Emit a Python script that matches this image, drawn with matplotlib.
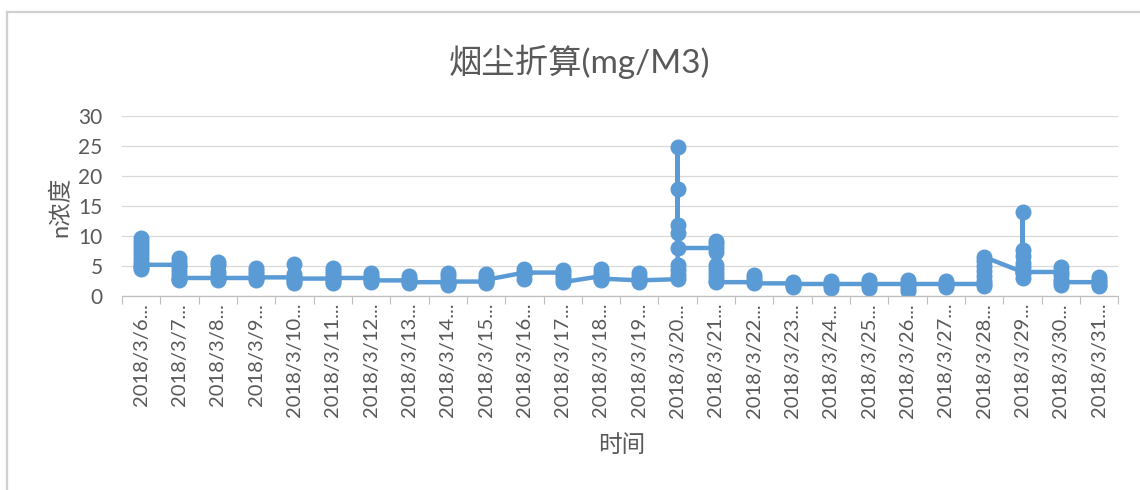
import matplotlib
matplotlib.use("Agg")
import matplotlib.pyplot as plt
from matplotlib.lines import Line2D

plt.rcParams['font.family'] = ['Lato', 'Noto Sans CJK SC', 'DejaVu Sans']

# dados (vários registros por dia)
dates = ["2018/3/%d..." % d for d in range(6, 32)]

values_per_day = [
    [9.7, 9.0, 8.3, 7.6, 7.0, 6.3, 5.6, 4.8, 4.5, 5.2],   # 3/6
    [5.2, 6.3, 5.7, 5.0, 4.3, 3.6, 2.9, 2.7, 3.0],        # 3/7
    [3.0, 5.7, 5.2, 4.0, 3.4, 2.7, 3.0],                  # 3/8
    [3.0, 4.7, 4.2, 3.6, 3.0, 2.7, 3.1],                  # 3/9
    [3.1, 5.3, 3.6, 3.0, 2.5, 2.2, 2.9],                  # 3/10
    [2.9, 4.7, 4.2, 3.6, 3.0, 2.4, 2.2, 3.0],             # 3/11
    [3.0, 3.8, 3.3, 2.8, 2.4, 2.6],                       # 3/12
    [2.6, 3.4, 2.8, 2.2, 2.3],                            # 3/13
    [2.3, 3.9, 3.3, 2.7, 2.1, 1.9, 2.4],                  # 3/14
    [2.4, 3.7, 3.1, 2.6, 2.2, 2.7],                       # 3/15
    [3.9, 4.5, 3.6, 2.9, 3.9],                            # 3/16
    [3.9, 4.3, 3.4, 2.8, 2.3],                            # 3/17
    [3.3, 4.5, 3.9, 3.2, 2.6, 2.9],                       # 3/18
    [2.6, 3.8, 3.2, 2.6, 2.4, 2.6],                       # 3/19
    [2.8, 3.5, 4.3, 5.2, 11.8, 10.5, 17.8, 24.8, 8.0],    # 3/20
    [8.0, 9.2, 8.6, 7.4, 5.2, 4.5, 3.8, 3.1, 2.5, 2.3],   # 3/21
    [2.3, 3.5, 3.0, 2.5, 2.1],                            # 3/22
    [2.1, 2.4, 1.8, 1.5, 2.0],                            # 3/23
    [2.0, 2.5, 1.8, 1.4, 2.0],                            # 3/24
    [2.0, 2.6, 1.9, 1.4, 2.0],                            # 3/25
    [2.0, 2.7, 2.0, 1.3, 0.8, 2.0],                       # 3/26
    [2.0, 2.5, 1.8, 1.5, 2.0],                            # 3/27
    [2.0, 1.6, 2.5, 3.3, 4.2, 5.0, 5.8, 6.5],             # 3/28
    [4.0, 3.0, 3.8, 4.8, 5.5, 6.6, 7.7, 14.0, 4.0],       # 3/29
    [4.0, 4.8, 3.5, 2.6, 1.8, 2.3],                       # 3/30
    [2.3, 3.2, 2.6, 1.9, 1.6],                            # 3/31
]

x = []
y = []
for i, vals in enumerate(values_per_day):
    x.extend([i] * len(vals))
    y.extend(vals)

cor = '#5B9BD5'
cinza_txt = '#595959'

fig = plt.figure(figsize=(11.4, 4.9), dpi=100)
ax = fig.add_axes([0.107, 0.396, 0.874, 0.367])

ax.plot(x, y, color=cor, linewidth=3.2, marker='o', markersize=10.5,
        markeredgecolor=cor, markerfacecolor=cor, solid_joinstyle='round')

ax.set_xlim(-0.5, len(dates) - 0.5)
ax.set_ylim(0, 30)
ax.set_yticks(range(0, 31, 5))
ax.set_xticks(range(len(dates)))
ax.set_xticklabels(dates, rotation=90, va='top', ha='center')
ax.set_xticks([i - 0.5 for i in range(len(dates) + 1)], minor=True)

ax.tick_params(axis='x', which='major', length=0, pad=5, labelsize=14.5, labelcolor=cinza_txt)
ax.tick_params(axis='x', which='minor', length=6, width=0.8, color='#BFBFBF')
ax.tick_params(axis='y', length=0, pad=14, labelsize=15, labelcolor=cinza_txt)

ax.grid(axis='y', color='#D9D9D9', linewidth=0.9)
ax.set_axisbelow(True)
for s in ['top', 'right', 'left']:
    ax.spines[s].set_visible(False)
ax.spines['bottom'].set_color('#BFBFBF')
ax.spines['bottom'].set_linewidth(0.9)

fig.text(0.508, 0.873, "烟尘折算(mg/M3)", ha='center', va='center', fontsize=24, color=cinza_txt)
fig.text(0.053, 0.578, "n浓度", ha='center', va='center', rotation=90, fontsize=17, color=cinza_txt)
fig.text(0.545, 0.092, "时间", ha='center', va='center', fontsize=17, color=cinza_txt)

# borda do gráfico (só topo e esquerda aparecem no recorte)
fig.add_artist(Line2D([0.006, 1.0], [1 - 12 / 490, 1 - 12 / 490], color='#D0D0D0', linewidth=1.6))
fig.add_artist(Line2D([0.006, 0.006], [0.0, 1 - 12 / 490], color='#D0D0D0', linewidth=1.6))

fig.savefig("out.png", dpi=100, facecolor='white')
